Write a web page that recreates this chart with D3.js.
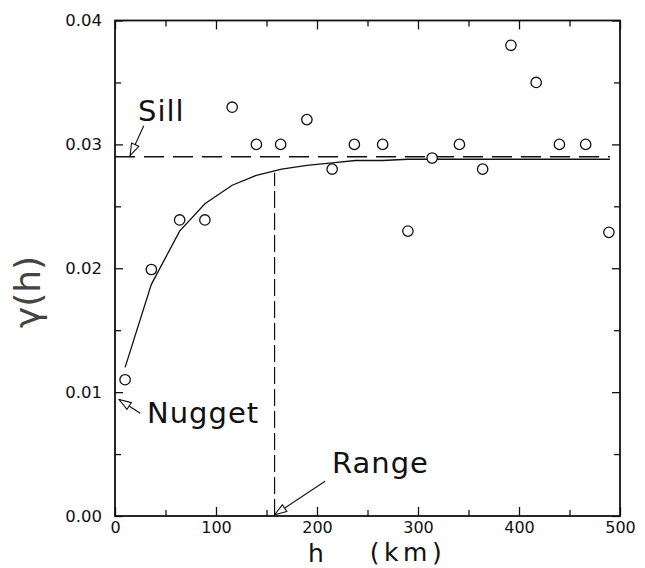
<!DOCTYPE html>
<html>
<head>
<meta charset="utf-8">
<script src="https://cdn.jsdelivr.net/npm/d3@7"></script>
<style>
  body { margin: 0; background: #fff; }
  text { font-family: "DejaVu Sans", sans-serif; fill: #111; }
  .domain { display: none; }
</style>
</head>
<body>
<script>
// Experimental variogram (lag in km, semivariance)
const lags = [10, 36, 64, 89, 116, 140, 164, 190, 215, 237, 265, 290, 314, 341, 364, 392, 417, 440, 466, 489];
const gamma = [0.011, 0.0199, 0.0239, 0.0239, 0.033, 0.030, 0.030, 0.032, 0.028, 0.030, 0.030, 0.023, 0.0289, 0.030, 0.028, 0.038, 0.035, 0.030, 0.030, 0.0229];

// Fitted model
const modelLags = [10, 36, 64, 89, 116, 140, 165, 190, 215, 238, 265, 290, 315, 340, 365, 392, 417, 442, 467, 490];
const modelGamma = [0.0120, 0.0187, 0.0230, 0.0252, 0.0267, 0.0275, 0.0280, 0.0283, 0.0285, 0.0287, 0.0287, 0.0288, 0.0288, 0.0288, 0.0288, 0.0288, 0.0288, 0.0288, 0.0288, 0.0288];

const sill = 0.0290;
const range = 158;
const rangeTop = 0.0277;

const xMajor = [0, 100, 200, 300, 400, 500];
const xMinor = [50, 150, 250, 350, 450];
const yMajor = [0, 0.01, 0.02, 0.03, 0.04];
const yMinor = [0.005, 0.015, 0.025, 0.035];

const W = 645, H = 568;
const x = d3.scaleLinear().domain([0, 500]).range([115, 620]);
const y = d3.scaleLinear().domain([0, 0.04]).range([516, 20.5]);

const svg = d3.select("body").append("svg")
    .attr("width", W)
    .attr("height", H);

svg.append("defs").append("marker")
    .attr("id", "tri")
    .attr("viewBox", "0 0 14 10")
    .attr("refX", 13)
    .attr("refY", 5)
    .attr("markerWidth", 14)
    .attr("markerHeight", 10)
    .attr("markerUnits", "userSpaceOnUse")
    .attr("orient", "auto")
    .append("path")
    .attr("d", "M1,1 L13,5 L1,9 Z")
    .attr("fill", "#fff")
    .attr("stroke", "#111")
    .attr("stroke-width", 1.1);

// axes: major ticks with labels, minor ticks inward
const fmtY = d3.format(".2f");
svg.append("g")
    .attr("transform", `translate(0,${y(0)})`)
    .call(d3.axisBottom(x).tickValues(xMajor).tickSize(-9).tickPadding(10).tickFormat(d3.format("d")))
    .call(g => g.selectAll("text").attr("font-size", 16).attr("dy", "0.45em"));
svg.append("g")
    .attr("transform", `translate(0,${y(0)})`)
    .call(d3.axisBottom(x).tickValues(xMinor).tickSize(-6).tickFormat(""));
svg.append("g")
    .attr("transform", `translate(0,${y(0.04)})`)
    .call(d3.axisTop(x).tickValues(xMajor).tickSize(-9).tickFormat(""));
svg.append("g")
    .attr("transform", `translate(0,${y(0.04)})`)
    .call(d3.axisTop(x).tickValues(xMinor).tickSize(-6).tickFormat(""));

svg.append("g")
    .attr("transform", `translate(${x(0)},0)`)
    .call(d3.axisLeft(y).tickValues(yMajor).tickSize(-8).tickPadding(13).tickFormat(fmtY))
    .call(g => g.selectAll("text").attr("font-size", 16.5));
svg.append("g")
    .attr("transform", `translate(${x(0)},0)`)
    .call(d3.axisLeft(y).tickValues(yMinor).tickSize(-6).tickFormat(""));
svg.append("g")
    .attr("transform", `translate(${x(500)},0)`)
    .call(d3.axisRight(y).tickValues(yMajor).tickSize(-8).tickFormat(""));
svg.append("g")
    .attr("transform", `translate(${x(500)},0)`)
    .call(d3.axisRight(y).tickValues(yMinor).tickSize(-6).tickFormat(""));

svg.selectAll(".tick line").attr("stroke", "#111").attr("stroke-width", 1.3);

// frame
svg.append("rect")
    .attr("x", x(0))
    .attr("y", y(0.04))
    .attr("width", x(500) - x(0))
    .attr("height", y(0) - y(0.04))
    .attr("fill", "none")
    .attr("stroke", "#111")
    .attr("stroke-width", 1.8);

// sill line
svg.append("line")
    .attr("x1", x(0)).attr("x2", x(490))
    .attr("y1", y(sill)).attr("y2", y(sill))
    .attr("stroke", "#111")
    .attr("stroke-width", 1.4)
    .attr("stroke-dasharray", "20,9");

// range line
svg.append("line")
    .attr("x1", x(range)).attr("x2", x(range))
    .attr("y1", y(0)).attr("y2", y(rangeTop))
    .attr("stroke", "#111")
    .attr("stroke-width", 1.2)
    .attr("stroke-dasharray", "17,5");

// model curve
const line = d3.line().x((d, i) => x(modelLags[i])).y(d => y(d));
svg.append("path")
    .datum(modelGamma)
    .attr("d", line)
    .attr("fill", "none")
    .attr("stroke", "#111")
    .attr("stroke-width", 1.3);

// experimental points
svg.selectAll(".pt")
    .data(gamma)
    .enter()
    .append("circle")
    .attr("class", "pt")
    .attr("cx", (d, i) => x(lags[i]))
    .attr("cy", d => y(d))
    .attr("r", 5.2)
    .attr("fill", "#fff")
    .attr("stroke", "#111")
    .attr("stroke-width", 1.3);

// annotations
const notes = [
    { label: "Sill", tx: 138, ty: 121, from: [28.5, 0.0315], to: [15, 0.0291] },
    { label: "Nugget", tx: 147, ty: 423, from: [25, 0.0083], to: [4, 0.0094] },
    { label: "Range", tx: 332, ty: 473, from: [208, 0.0028], to: [158, 0.0001] }
];
notes.forEach(n => {
    svg.append("line")
        .attr("x1", x(n.from[0])).attr("y1", y(n.from[1]))
        .attr("x2", x(n.to[0])).attr("y2", y(n.to[1]))
        .attr("stroke", "#111")
        .attr("stroke-width", 1.1)
        .attr("marker-end", "url(#tri)");
    svg.append("text")
        .attr("x", n.tx)
        .attr("y", n.ty)
        .attr("font-size", 29)
        .attr("letter-spacing", 1)
        .text(n.label);
});

// axis titles
svg.append("text")
    .attr("x", 316)
    .attr("y", 562)
    .attr("text-anchor", "middle")
    .attr("font-size", 25)
    .text("h");
svg.append("text")
    .attr("x", 408)
    .attr("y", 561)
    .attr("text-anchor", "middle")
    .attr("font-size", 25)
    .attr("letter-spacing", 4.5)
    .text("(km)");
svg.append("text")
    .attr("transform", "translate(40,292) rotate(-90)")
    .attr("text-anchor", "middle")
    .attr("font-size", 36)
    .style("fill", "#444")
    .text("γ(h)");
</script>
</body>
</html>
